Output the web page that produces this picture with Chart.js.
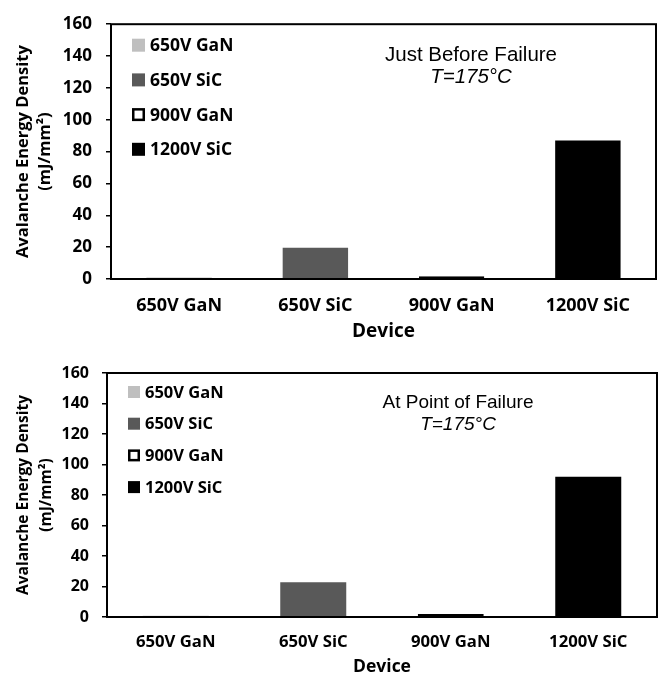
<!DOCTYPE html>
<html>
<head>
<meta charset="utf-8">
<script src="https://cdn.jsdelivr.net/npm/chart.js@4.4.1/dist/chart.umd.min.js"></script>
<style>
  html, body { margin: 0; padding: 0; background: #fff; }
  #wrap { position: relative; width: 661px; height: 680px; }
  canvas { position: absolute; left: 0; }
  #chart-before { top: 0; }
  #chart-at { top: 342px; }
</style>
</head>
<body>
<div id="wrap">
  <canvas id="chart-before" width="661" height="342"></canvas>
  <canvas id="chart-at" width="661" height="338"></canvas>
</div>
<script>
// devices on the x axis
const devices = ['650V GaN', '650V SiC', '900V GaN', '1200V SiC'];
// avalanche energy density, mJ/mm², T = 175°C
const energyBeforeFailure = [0.9, 19.6, 1.7, 87];
const energyAtFailure = [0.8, 22.8, 1.9, 92];
// y axis range
const yMin = 0;
const yMax = 160;
const yStep = 20;

const barFill = ['#bfbfbf', '#595959', '#ffffff', '#000000'];
const barEdge = ['#bfbfbf', '#595959', '#000000', '#000000'];
const barEdgeWidth = [0, 0, 2, 0];

const FONT = "'Open Sans', sans-serif";

// box around the plot area
const framePlugin = {
    id: 'frame',
    afterDatasetsDraw(chart) {
        const { ctx, chartArea: a } = chart;
        ctx.save();
        ctx.strokeStyle = '#000';
        ctx.lineWidth = 2;
        ctx.strokeRect(a.left, a.top, a.right - a.left, a.bottom - a.top);
        ctx.restore();
    }
};

// one-column legend inside the plot, plus the two-line note
const notesPlugin = {
    id: 'notes',
    afterDraw(chart, args, o) {
        const { ctx, chartArea: a } = chart;
        const ds = chart.data.datasets[0];
        ctx.save();
        ctx.textBaseline = 'middle';
        ctx.textAlign = 'left';
        ctx.font = `bold ${o.legendSize}px ${FONT}`;
        chart.data.labels.forEach((label, i) => {
            const x = a.left + o.legendLeft;
            const y = a.top + o.legendTop + i * o.legendGap;
            const b = o.box;
            ctx.fillStyle = ds.backgroundColor[i];
            ctx.fillRect(x, y - b / 2, b, b);
            if (ds.borderWidth[i]) {
                ctx.strokeStyle = '#000';
                ctx.lineWidth = 2.5;
                ctx.strokeRect(x + 1.25, y - b / 2 + 1.25, b - 2.5, b - 2.5);
            }
            ctx.fillStyle = '#000';
            ctx.fillText(label, x + b + 5, y + 1);
        });

        ctx.textAlign = 'center';
        ctx.fillStyle = '#000';
        ctx.font = `${o.noteSize}px 'Liberation Sans', Arial, sans-serif`;
        ctx.fillText(o.note, a.left + o.noteX, a.top + o.noteY);
        ctx.font = `italic ${o.noteSize}px 'Liberation Sans', Arial, sans-serif`;
        ctx.fillText('T=175°C', a.left + o.noteX, a.top + o.noteY + o.noteGap);
        ctx.restore();
    }
};

function makeChart(id, values, s) {
    return new Chart(document.getElementById(id), {
        type: 'bar',
        data: {
            labels: devices,
            datasets: [{
                data: values,
                backgroundColor: barFill,
                borderColor: barEdge,
                borderWidth: barEdgeWidth,
                borderSkipped: false,
                categoryPercentage: 1,
                barPercentage: 0.48
            }]
        },
        options: {
            responsive: false,
            animation: false,
            layout: { padding: { top: s.top, right: s.right, left: 0, bottom: 0 } },
            plugins: {
                legend: { display: false },
                tooltip: { enabled: false },
                notes: s.notes
            },
            scales: {
                x: {
                    grid: { display: false, drawTicks: false },
                    border: { display: false },
                    ticks: {
                        color: '#000',
                        padding: s.xPad,
                        font: { family: FONT, size: s.xSize, weight: 'bold' }
                    },
                    title: {
                        display: true,
                        text: 'Device',
                        color: '#000',
                        padding: { top: 0, bottom: s.devPad },
                        font: { family: FONT, size: s.devSize, weight: 'bold', lineHeight: '20px' }
                    },
                    afterFit: scale => { scale.height = 63; }
                },
                y: {
                    min: yMin,
                    max: yMax,
                    grid: {
                        drawOnChartArea: false,
                        drawTicks: true,
                        tickLength: 5,
                        color: '#000',
                        lineWidth: 1.5
                    },
                    border: { display: false },
                    ticks: {
                        stepSize: yStep,
                        color: '#000',
                        padding: s.yPad,
                        font: { family: FONT, size: s.ySize, weight: 'bold' }
                    },
                    title: {
                        display: true,
                        text: ['Avalanche Energy Density', '(mJ/mm²)'],
                        color: '#000',
                        padding: { top: 12, bottom: 0 },
                        font: { family: FONT, size: s.titleSize, weight: 'bold', lineHeight: s.titleLine }
                    },
                    afterFit: scale => { scale.width = s.left; }
                }
            }
        },
        plugins: [framePlugin, notesPlugin]
    });
}

makeChart('chart-before', energyBeforeFailure, {
    top: 15, right: 5, left: 111,
    xPad: 16, xSize: 18, devSize: 19, devPad: 0,
    yPad: 14, ySize: 17, titleSize: 16.5, titleLine: '22px',
    notes: {
        legendSize: 17.5, legendLeft: 21, legendTop: 21, legendGap: 34.7, box: 13,
        note: 'Just Before Failure', noteSize: 20.5, noteX: 360, noteY: 31, noteGap: 22
    }
});

makeChart('chart-at', energyAtFailure, {
    top: 31, right: 4, left: 107,
    xPad: 15, xSize: 16.7, devSize: 17.5, devPad: 3,
    yPad: 13, ySize: 16, titleSize: 15.5, titleLine: '23px',
    notes: {
        legendSize: 16.5, legendLeft: 21, legendTop: 19, legendGap: 31.7, box: 12,
        note: 'At Point of Failure', noteSize: 19, noteX: 351, noteY: 30, noteGap: 22
    }
});
</script>
</body>
</html>
